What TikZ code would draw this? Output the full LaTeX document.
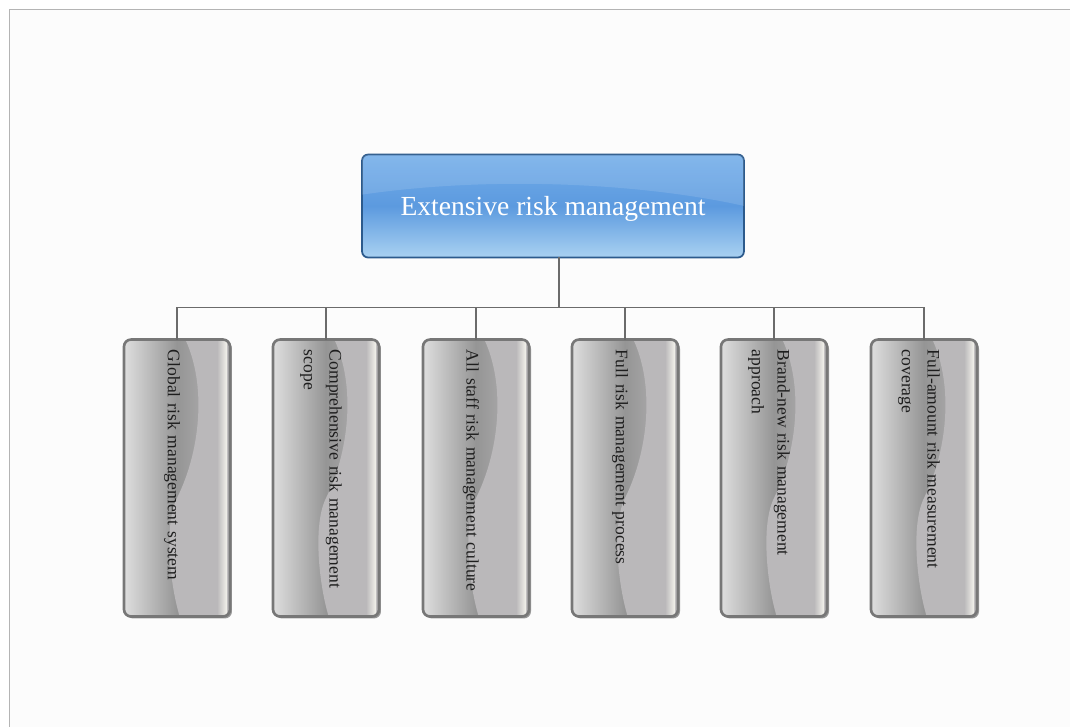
\documentclass[tikz,border=0pt]{standalone}
\usepackage{fontspec}
\setmainfont{Liberation Serif}

\definecolor{pagebg}{HTML}{FCFCFC}
\definecolor{framegray}{HTML}{B4B4B4}
\definecolor{headedge}{HTML}{2C5A8C}
\definecolor{headtop}{HTML}{72ADE9}
\definecolor{headmid}{HTML}{5C9ADF}
\definecolor{headbot}{HTML}{A9D1F1}
\definecolor{leafedge}{HTML}{777777}
\definecolor{leaflight}{HTML}{DEDEDE}
\definecolor{leafdark}{HTML}{959595}
\definecolor{leafmid}{HTML}{BAB8BA}
\definecolor{leafshine}{HTML}{F4F3EC}
\definecolor{wiregray}{HTML}{6B6B6B}
\definecolor{leafink}{HTML}{1E1E1E}

\tikzset{
  headbox/.style = {rectangle, rounded corners = 3.5pt, outer sep = 0pt,
    minimum width = 7.64cm, minimum height = 2.06cm,
    draw = headedge, line width = 1pt,
    top color = headtop, bottom color = headbot, middle color = headmid},
  headtext/.style = {text = white, font = \fontsize{15.7}{18}\selectfont},
  leafbox/.style = {rectangle, rounded corners = 4pt, outer sep = 0pt,
    minimum width = 2.12cm, minimum height = 5.54cm,
    left color = leaflight, right color = leafmid, middle color = leafdark},
  leafshadow/.style = {rectangle, rounded corners = 4pt,
    minimum width = 2.12cm, minimum height = 5.54cm,
    fill = black, opacity = 0.4},
  leafrim/.style = {draw = leafedge, line width = 1.5pt, rounded corners = 4pt},
  leaftext/.style = {rotate = -90, anchor = west, inner sep = 0pt, text width = 5.4cm,
    text = leafink, font = \fontsize{10}{14.6}\selectfont,
    execute at begin node = {\raggedright\hyphenpenalty=10000}},
  wire/.style = {draw = wiregray, line width = 1.1pt}
}

\begin{document}
\begin{tikzpicture}[x = 0.02cm, y = -0.02cm]
  \useasboundingbox (0,0) rectangle (1070,727);
  \fill [white] (0,0) rectangle (1070,727);
  \fill [pagebg] (9,9) rectangle (1070,727);
  \draw [framegray] (1070,9) -- (9,9) -- (9,727);

  \node [headbox] (top) at (553,206) {};
  \begin{scope}
    \clip [rounded corners = 3.5pt] (top.south west) rectangle (top.north east);
    \fill [white, opacity = 0.12, shift = {(top.center)}]
      (-200,-10) .. controls (-60,-32) and (100,-22) .. (200,2)
      -- (200,-60) -- (-200,-60) -- cycle;
  \end{scope}
  \node [headtext] (toplabel) at ([shift = {(0,3)}]top.center) {Extensive risk management};

  \foreach \id/\px/\txt in {
    1/177/{Global risk management system},
    2/326/{Comprehensive risk management\newline scope},
    3/476/{All staff risk management culture},
    4/625/{Full risk management process},
    5/774/{Brand-new risk management\newline approach},
    6/924/{Full-amount risk measurement\newline coverage}
  } {
    \node [leafshadow] (s\id) at (\px+2,480) {};
    \node [leafbox] (b\id) at (\px,478) {};
    \begin{scope}
      \clip [rounded corners = 4pt] (b\id.south west) rectangle (b\id.north east);
      \fill [leafmid, shift = {(b\id.center)}]
        (5,-145) .. controls (30,-100) and (25,-30) .. (0,20)
        .. controls (-15,50) and (-5,120) .. (5,145) -- (60,145) -- (60,-145) -- cycle;
      \shade [left color = leafmid, right color = leafshine, shift = {(b\id.center)}]
        (40,-145) rectangle (50,145);
    \end{scope}
    \draw [leafrim] (b\id.south west) rectangle (b\id.north east);
    \draw [wire] ([shift = {(6,0)}]top.south) -- ++(0,50) -| (b\id.north);
    \node [leaftext] (t\id) at ([shift = {(-5,10)}]b\id.north) {\txt};
  }
\end{tikzpicture}
\end{document}
